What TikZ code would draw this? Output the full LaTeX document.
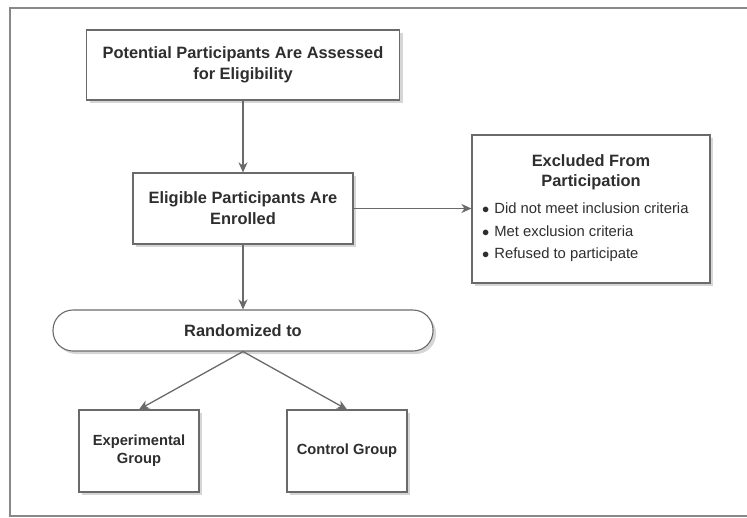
\documentclass[tikz,border=0pt]{standalone}
\usepackage{fontspec}
\setmainfont{Liberation Sans}
\usetikzlibrary{arrows.meta,shadows,positioning}
\definecolor{linegray}{HTML}{6A6A6A}
\definecolor{txtgray}{HTML}{2E2E2E}
\definecolor{shadowgray}{HTML}{D6D6D6}
\tikzset{
  shbox/.style={draw=linegray, line width=1.1pt, fill=white, inner sep=0pt,
    general shadow={fill=shadowgray, shadow xshift=3pt, shadow yshift=-3pt},
    text=txtgray, align=center, font=\bfseries\fontsize{16.4}{21}\selectfont},
  conn/.style={draw=linegray, line width=1.3pt, -{Stealth[length=10pt,width=9pt,inset=3pt]}},
  plaintxt/.style={text=txtgray, inner sep=0pt}
}
\begin{document}
\begin{tikzpicture}[x=1pt,y=-1pt]
\useasboundingbox (0,0) rectangle (747,517);
% outer frame (left, top, bottom visible)
\draw[linegray!80, line width=1.4pt] (747,8) -- (10,8) -- (10,516) -- (747,516);
% nodes
\node[shbox, minimum width=313pt, minimum height=70pt] (assess) at (243,65)
  {Potential Participants Are Assessed\\for Eligibility};
\node[shbox, minimum width=220pt, minimum height=71pt] (enrol) at (243,208.5)
  {Eligible Participants Are\\Enrolled};
\node[shbox, minimum width=238pt, minimum height=148pt] (excl) at (591,209) {};
\node[plaintxt, align=center, font=\bfseries\fontsize{16.4}{20}\selectfont, anchor=north]
  (excltitle) at (591,154) {Excluded From\\Participation};
\node[plaintxt, align=left, font=\fontsize{14.8}{22.5}\selectfont, anchor=north west]
  (excllist) at (482,203) {$\bullet$\hspace{5pt}Did not meet inclusion criteria\\
  $\bullet$\hspace{5pt}Met exclusion criteria\\
  $\bullet$\hspace{5pt}Refused to participate};
\node[shbox, rounded corners=20pt, minimum width=380pt, minimum height=41pt] (rand) at (243,330.5)
  {Randomized to};
\node[shbox, minimum width=120pt, minimum height=82pt, font=\bfseries\fontsize{14.7}{18}\selectfont] (exp) at (139,451)
  {Experimental\\Group};
\node[shbox, minimum width=120pt, minimum height=82pt, font=\bfseries\fontsize{14.7}{18}\selectfont] (ctrl) at (347,451)
  {Control Group};
% connectors
\draw[conn] (assess.south) -- (enrol.north);
\draw[conn] (enrol.east) -- (enrol.east -| excl.west);
\draw[conn] (enrol.south) -- (rand.north);
\draw[conn] (rand.south) -- (exp.north);
\draw[conn] (rand.south) -- (ctrl.north);
\end{tikzpicture}
\end{document}
